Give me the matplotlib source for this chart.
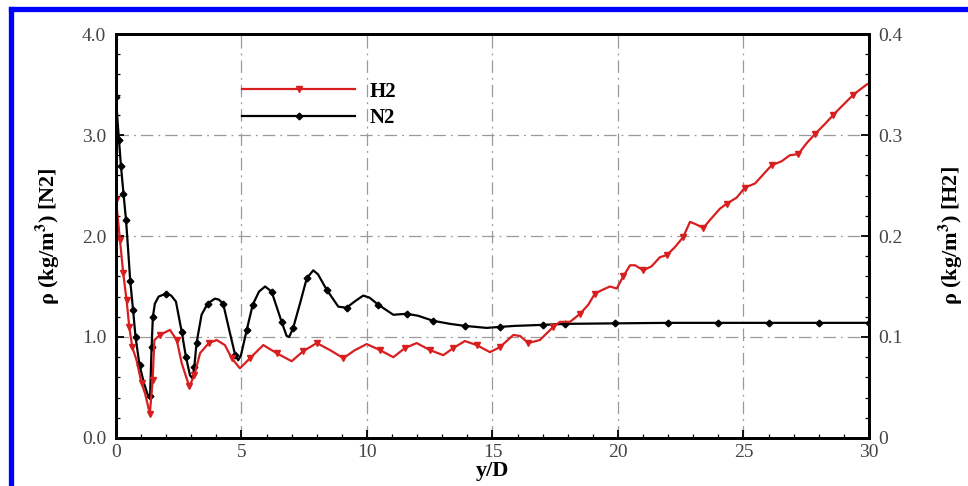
import numpy as np
import matplotlib
matplotlib.use("Agg")
import matplotlib.pyplot as plt
from matplotlib.lines import Line2D

# N2 density, left axis (kg/m3)
n2_x = [0.0, 0.06, 0.12, 0.2, 0.3, 0.4, 0.48, 0.57, 0.68, 0.78, 0.94, 1.12, 1.3, 1.36,
        1.42, 1.47, 1.55, 1.7, 2.0, 2.2, 2.39, 2.62, 2.79, 2.95, 3.05, 3.12, 3.21, 3.41,
        3.65, 3.94, 4.1, 4.27, 4.54, 4.75, 4.87, 4.98, 5.21, 5.45, 5.7, 5.94, 6.2, 6.6,
        6.8, 6.9, 7.06, 7.33, 7.6, 7.86, 8.05, 8.39, 8.86, 9.19, 9.5, 9.85, 10.1, 10.45,
        11.05, 11.58, 12.04, 12.64, 13.31, 13.9, 14.77, 15.3, 15.9, 17.0, 17.9, 19.9,
        22.0, 24.0, 26.0, 28.0, 30.0]
n2_rho = [3.38, 3.15, 2.95, 2.69, 2.42, 2.16, 1.88, 1.55, 1.27, 1.00, 0.72, 0.54, 0.40, 0.42,
          0.90, 1.20, 1.33, 1.40, 1.43, 1.41, 1.35, 1.05, 0.80, 0.62, 0.59, 0.70, 0.94, 1.22,
          1.33, 1.38, 1.37, 1.33, 1.04, 0.82, 0.77, 0.82, 1.07, 1.32, 1.45, 1.50, 1.45, 1.15,
          1.01, 1.00, 1.09, 1.33, 1.58, 1.66, 1.62, 1.47, 1.30, 1.29, 1.35, 1.41, 1.39, 1.32,
          1.22, 1.23, 1.21, 1.16, 1.13, 1.11, 1.09, 1.10, 1.11, 1.12, 1.13, 1.135,
          1.14, 1.14, 1.14, 1.14, 1.14]

# H2 density, right axis (kg/m3)
h2_x = [0.0, 0.16, 0.29, 0.42, 0.53, 0.65, 0.82, 1.02, 1.16, 1.35, 1.46, 1.53, 1.75, 2.15,
        2.42, 2.62, 2.92, 3.12, 3.35, 3.7, 4.01, 4.34, 4.61, 4.94, 5.34, 5.87, 6.4, 7.0,
        7.46, 8.0, 8.53, 9.06, 9.52, 9.99, 10.52, 11.05, 11.51, 11.98, 12.51, 13.04, 13.44,
        13.9, 14.37, 14.9, 15.3, 15.83, 16.1, 16.43, 16.89, 17.42, 17.69, 18.09, 18.49,
        18.82, 19.08, 19.41, 19.68, 19.95, 20.21, 20.48, 20.68, 21.01, 21.34, 21.67, 21.94,
        22.27, 22.6, 22.87, 23.07, 23.4, 23.67, 24.06, 24.33, 24.73, 25.06, 25.46, 25.79,
        26.12, 26.52, 26.85, 27.18, 27.52, 27.85, 28.25, 28.58, 28.98, 29.38, 29.91, 30.0]
h2_rho = [0.236, 0.196, 0.163, 0.137, 0.110, 0.090, 0.077, 0.054, 0.044, 0.024, 0.057, 0.097,
          0.102, 0.107, 0.097, 0.074, 0.051, 0.062, 0.084, 0.094, 0.097, 0.092, 0.079, 0.069,
          0.079, 0.092, 0.084, 0.076, 0.086, 0.094, 0.087, 0.079, 0.087, 0.093, 0.087, 0.080,
          0.089, 0.094, 0.087, 0.082, 0.089, 0.096, 0.092, 0.085, 0.090, 0.102, 0.101, 0.094,
          0.097, 0.110, 0.115, 0.115, 0.123, 0.132, 0.143, 0.147, 0.150, 0.148, 0.160, 0.171,
          0.171, 0.166, 0.170, 0.179, 0.181, 0.189, 0.199, 0.214, 0.212, 0.208, 0.216, 0.227,
          0.232, 0.238, 0.248, 0.252, 0.261, 0.270, 0.274, 0.280, 0.281, 0.292, 0.301, 0.311,
          0.320, 0.330, 0.340, 0.350, 0.351]

left_ticks = [0.0, 1.0, 2.0, 3.0, 4.0]
right_ticks = [0.0, 0.1, 0.2, 0.3, 0.4]
right_labels = ["0", "0.1", "0.2", "0.3", "0.4"]
x_ticks = [0, 5, 10, 15, 20, 25, 30]

plt.rcParams['font.family'] = ['Liberation Serif', 'DejaVu Serif']
plt.rcParams['mathtext.fontset'] = 'stix'

fig = plt.figure(figsize=(9.68, 4.86), dpi=100)
ax = fig.add_axes([0.1198, 0.0988, 0.7779, 0.8312])
ax2 = ax.twinx()

red = '#d81e1e'
ax.plot(n2_x, n2_rho, color='black', lw=1.6, marker='D', ms=3.4, markevery=0.04)
ax2.plot(h2_x, h2_rho, color=red, lw=1.6, marker='v', ms=4.2, markevery=0.035)

ax.set_xlim(0, 30)
ax.set_ylim(0, 4)
ax2.set_ylim(0, 0.4)

tick_col = '#444444'
ax.set_xticks(x_ticks)
ax.set_xticks(np.arange(0, 31, 1), minor=True)
ax.set_yticks(left_ticks)
ax.set_yticklabels(["%.1f" % v for v in left_ticks])
ax.set_yticks(np.arange(0, 4.01, 0.2), minor=True)
ax2.set_yticks(right_ticks)
ax2.set_yticklabels(right_labels)
ax2.set_yticks(np.arange(0, 0.401, 0.02), minor=True)

for a in (ax, ax2):
    a.tick_params(which='major', direction='in', length=6, width=1.3,
                  labelsize=14, labelcolor=tick_col, pad=7)
    a.tick_params(which='minor', direction='in', length=3, width=0.9)
    for s in a.spines.values():
        s.set_linewidth(2.0)
ax.tick_params(axis='x', which='major', pad=4)
ax.tick_params(axis='y', which='both', right=False)
ax2.tick_params(axis='y', which='both', left=False)

ax.grid(True, which='major', color='#9a9a9a', lw=0.9, linestyle=(0, (10, 4, 1.5, 4)))

ax.set_xlabel("y/D", fontsize=16, fontweight='bold', labelpad=0)
ax.set_ylabel(r"ρ (kg/m$^{\mathbf{3}}$) [N2]", fontsize=16, fontweight='bold', labelpad=14)
ax2.set_ylabel(r"ρ (kg/m$^{\mathbf{3}}$) [H2]", fontsize=16, fontweight='bold', labelpad=24)

handles = [Line2D([], [], color=red, lw=1.6, marker='v', ms=4.2),
           Line2D([], [], color='black', lw=1.6, marker='D', ms=3.4)]
ax.legend(handles, ["H2", "N2"], loc='upper left', bbox_to_anchor=(0.168, 0.882),
          frameon=False, borderpad=0, borderaxespad=0, handlelength=5.4,
          handletextpad=0.7, labelspacing=0.32, numpoints=1,
          prop={'size': 15, 'weight': 'bold'})

# blue frame around the figure (left and top edges visible)
fig.add_artist(Line2D([10.5 / 968, 10.5 / 968], [0, 1 - 9.5 / 486], color='#0000ff',
                      lw=3.8, transform=fig.transFigure, solid_capstyle='projecting'))
fig.add_artist(Line2D([10.5 / 968, 1], [1 - 9.5 / 486, 1 - 9.5 / 486], color='#0000ff',
                      lw=3.8, transform=fig.transFigure, solid_capstyle='projecting'))

fig.savefig("out.png", dpi=100)
